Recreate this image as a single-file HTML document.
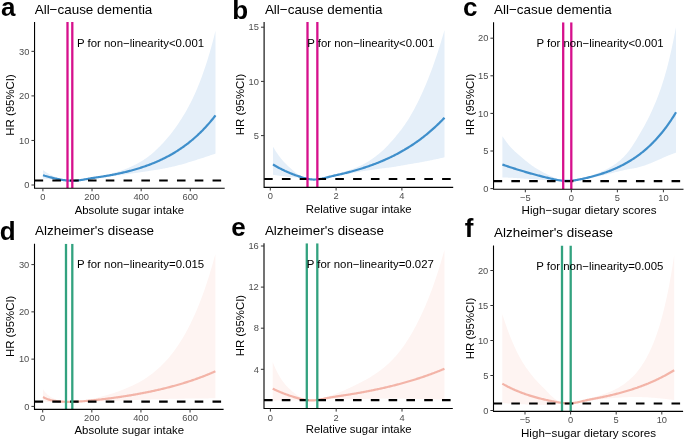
<!DOCTYPE html>
<html><head><meta charset="utf-8"><style>
html,body{margin:0;padding:0;background:#fff;width:685px;height:440px;overflow:hidden}
svg{display:block;will-change:transform}
text{font-family:"Liberation Sans", sans-serif;fill:#000}
</style></head><body>
<svg width="685" height="440" viewBox="0 0 685 440">

<clipPath id="clipa"><rect x="34.55" y="22.00" width="190.15" height="166.20"/></clipPath>
<g clip-path="url(#clipa)">
<path d="M43.00,170.06 L43.87,170.70 L44.73,171.32 L45.60,171.90 L46.47,172.46 L47.33,173.00 L48.20,173.51 L49.07,173.99 L49.93,174.46 L50.80,174.91 L51.67,175.33 L52.53,175.74 L53.40,176.13 L54.27,176.50 L55.13,176.86 L56.00,177.20 L56.87,177.52 L57.73,177.84 L58.60,178.16 L59.47,178.46 L60.34,178.76 L61.20,179.04 L62.07,179.30 L62.94,179.55 L63.80,179.77 L64.67,179.97 L65.54,180.16 L66.40,180.31 L67.27,180.45 L68.14,180.56 L69.00,180.65 L69.87,180.71 L70.74,180.74 L71.60,180.76 L72.47,180.77 L73.34,180.76 L74.20,180.73 L75.07,180.68 L75.94,180.61 L76.81,180.53 L77.67,180.44 L78.54,180.33 L79.41,180.21 L80.27,180.07 L81.14,179.92 L82.01,179.77 L82.87,179.60 L83.74,179.43 L84.61,179.25 L85.47,179.06 L86.34,178.88 L87.21,178.69 L88.07,178.51 L88.94,178.32 L89.81,178.15 L90.67,177.97 L91.54,177.80 L92.41,177.63 L93.28,177.46 L94.14,177.29 L95.01,177.13 L95.88,176.96 L96.74,176.80 L97.61,176.63 L98.48,176.47 L99.34,176.30 L100.21,176.13 L101.08,175.95 L101.94,175.77 L102.81,175.59 L103.68,175.40 L104.54,175.21 L105.41,175.02 L106.28,174.82 L107.14,174.61 L108.01,174.41 L108.88,174.19 L109.75,173.97 L110.61,173.75 L111.48,173.52 L112.35,173.29 L113.21,173.05 L114.08,172.81 L114.95,172.56 L115.81,172.30 L116.68,172.04 L117.55,171.78 L118.41,171.50 L119.28,171.22 L120.15,170.94 L121.01,170.64 L121.88,170.34 L122.75,170.03 L123.61,169.72 L124.48,169.39 L125.35,169.06 L126.22,168.72 L127.08,168.38 L127.95,168.02 L128.82,167.65 L129.68,167.28 L130.55,166.90 L131.42,166.51 L132.28,166.10 L133.15,165.69 L134.02,165.27 L134.88,164.84 L135.75,164.40 L136.62,163.94 L137.48,163.48 L138.35,163.01 L139.22,162.52 L140.08,162.02 L140.95,161.51 L141.82,160.99 L142.69,160.45 L143.55,159.90 L144.42,159.34 L145.29,158.76 L146.15,158.16 L147.02,157.55 L147.89,156.91 L148.75,156.26 L149.62,155.58 L150.49,154.89 L151.35,154.17 L152.22,153.44 L153.09,152.69 L153.95,151.92 L154.82,151.14 L155.69,150.34 L156.55,149.52 L157.42,148.70 L158.29,147.85 L159.16,147.00 L160.02,146.14 L160.89,145.26 L161.76,144.36 L162.62,143.45 L163.49,142.52 L164.36,141.57 L165.22,140.60 L166.09,139.61 L166.96,138.61 L167.82,137.59 L168.69,136.54 L169.56,135.48 L170.42,134.39 L171.29,133.29 L172.16,132.16 L173.02,131.02 L173.89,129.85 L174.76,128.66 L175.63,127.45 L176.49,126.22 L177.36,124.96 L178.23,123.69 L179.09,122.40 L179.96,121.09 L180.83,119.75 L181.69,118.38 L182.56,117.00 L183.43,115.58 L184.29,114.14 L185.16,112.67 L186.03,111.17 L186.89,109.64 L187.76,108.08 L188.63,106.48 L189.49,104.85 L190.36,103.18 L191.23,101.47 L192.10,99.71 L192.96,97.92 L193.83,96.08 L194.70,94.19 L195.56,92.26 L196.43,90.27 L197.30,88.22 L198.16,86.12 L199.03,83.97 L199.90,81.76 L200.76,79.50 L201.63,77.18 L202.50,74.80 L203.36,72.35 L204.23,69.85 L205.10,67.28 L205.96,64.65 L206.83,61.95 L207.70,59.18 L208.57,56.34 L209.43,53.43 L210.30,50.44 L211.17,47.38 L212.03,44.24 L212.90,41.02 L213.77,37.72 L214.63,34.34 L215.50,30.87 L215.50,153.60 L214.63,153.90 L213.77,154.20 L212.90,154.49 L212.03,154.79 L211.17,155.08 L210.30,155.37 L209.43,155.66 L208.57,155.95 L207.70,156.24 L206.83,156.53 L205.96,156.81 L205.10,157.10 L204.23,157.38 L203.36,157.67 L202.50,157.95 L201.63,158.23 L200.76,158.51 L199.90,158.79 L199.03,159.07 L198.16,159.35 L197.30,159.62 L196.43,159.90 L195.56,160.18 L194.70,160.45 L193.83,160.73 L192.96,161.00 L192.10,161.28 L191.23,161.55 L190.36,161.82 L189.49,162.09 L188.63,162.36 L187.76,162.62 L186.89,162.88 L186.03,163.14 L185.16,163.40 L184.29,163.65 L183.43,163.90 L182.56,164.14 L181.69,164.39 L180.83,164.63 L179.96,164.86 L179.09,165.09 L178.23,165.32 L177.36,165.54 L176.49,165.76 L175.63,165.97 L174.76,166.18 L173.89,166.38 L173.02,166.58 L172.16,166.78 L171.29,166.98 L170.42,167.17 L169.56,167.36 L168.69,167.54 L167.82,167.73 L166.96,167.91 L166.09,168.08 L165.22,168.26 L164.36,168.43 L163.49,168.60 L162.62,168.76 L161.76,168.93 L160.89,169.09 L160.02,169.24 L159.16,169.40 L158.29,169.55 L157.42,169.69 L156.55,169.83 L155.69,169.97 L154.82,170.10 L153.95,170.23 L153.09,170.36 L152.22,170.49 L151.35,170.62 L150.49,170.75 L149.62,170.87 L148.75,171.00 L147.89,171.13 L147.02,171.26 L146.15,171.39 L145.29,171.52 L144.42,171.66 L143.55,171.79 L142.69,171.93 L141.82,172.06 L140.95,172.19 L140.08,172.32 L139.22,172.45 L138.35,172.58 L137.48,172.71 L136.62,172.84 L135.75,172.97 L134.88,173.10 L134.02,173.22 L133.15,173.35 L132.28,173.47 L131.42,173.60 L130.55,173.72 L129.68,173.84 L128.82,173.96 L127.95,174.08 L127.08,174.20 L126.22,174.32 L125.35,174.44 L124.48,174.56 L123.61,174.68 L122.75,174.80 L121.88,174.91 L121.01,175.03 L120.15,175.14 L119.28,175.26 L118.41,175.37 L117.55,175.49 L116.68,175.60 L115.81,175.71 L114.95,175.82 L114.08,175.93 L113.21,176.04 L112.35,176.15 L111.48,176.26 L110.61,176.36 L109.75,176.47 L108.88,176.57 L108.01,176.68 L107.14,176.78 L106.28,176.88 L105.41,176.98 L104.54,177.08 L103.68,177.18 L102.81,177.28 L101.94,177.38 L101.08,177.47 L100.21,177.57 L99.34,177.67 L98.48,177.76 L97.61,177.86 L96.74,177.96 L95.88,178.06 L95.01,178.16 L94.14,178.26 L93.28,178.37 L92.41,178.48 L91.54,178.59 L90.67,178.71 L89.81,178.83 L88.94,178.95 L88.07,179.08 L87.21,179.21 L86.34,179.35 L85.47,179.48 L84.61,179.62 L83.74,179.76 L82.87,179.89 L82.01,180.02 L81.14,180.14 L80.27,180.25 L79.41,180.36 L78.54,180.45 L77.67,180.54 L76.81,180.61 L75.94,180.68 L75.07,180.72 L74.20,180.76 L73.34,180.78 L72.47,180.78 L71.60,180.77 L70.74,180.74 L69.87,180.71 L69.00,180.66 L68.14,180.62 L67.27,180.57 L66.40,180.53 L65.54,180.48 L64.67,180.43 L63.80,180.38 L62.94,180.33 L62.07,180.28 L61.20,180.23 L60.34,180.17 L59.47,180.11 L58.60,180.05 L57.73,179.99 L56.87,179.91 L56.00,179.84 L55.13,179.76 L54.27,179.67 L53.40,179.59 L52.53,179.51 L51.67,179.43 L50.80,179.34 L49.93,179.26 L49.07,179.17 L48.20,179.08 L47.33,179.00 L46.47,178.91 L45.60,178.82 L44.73,178.73 L43.87,178.64 L43.00,178.55 Z" fill="#E5EFF9"/>
<path d="M43.00,175.18 L43.87,175.46 L44.73,175.74 L45.60,176.00 L46.47,176.26 L47.33,176.51 L48.20,176.75 L49.07,176.99 L49.93,177.22 L50.80,177.44 L51.67,177.66 L52.53,177.87 L53.40,178.07 L54.27,178.27 L55.13,178.47 L56.00,178.65 L56.87,178.83 L57.73,179.01 L58.60,179.18 L59.47,179.35 L60.34,179.51 L61.20,179.67 L62.07,179.81 L62.94,179.96 L63.80,180.09 L64.67,180.21 L65.54,180.32 L66.40,180.42 L67.27,180.51 L68.14,180.59 L69.00,180.65 L69.87,180.71 L70.74,180.74 L71.60,180.77 L72.47,180.78 L73.34,180.77 L74.20,180.74 L75.07,180.70 L75.94,180.64 L76.81,180.57 L77.67,180.49 L78.54,180.39 L79.41,180.28 L80.27,180.16 L81.14,180.03 L82.01,179.89 L82.87,179.75 L83.74,179.59 L84.61,179.44 L85.47,179.28 L86.34,179.12 L87.21,178.96 L88.07,178.80 L88.94,178.65 L89.81,178.50 L90.67,178.35 L91.54,178.21 L92.41,178.07 L93.28,177.93 L94.14,177.79 L95.01,177.66 L95.88,177.53 L96.74,177.40 L97.61,177.27 L98.48,177.14 L99.34,177.01 L100.21,176.88 L101.08,176.75 L101.94,176.61 L102.81,176.48 L103.68,176.34 L104.54,176.20 L105.41,176.05 L106.28,175.91 L107.14,175.76 L108.01,175.61 L108.88,175.46 L109.75,175.30 L110.61,175.14 L111.48,174.98 L112.35,174.82 L113.21,174.65 L114.08,174.49 L114.95,174.31 L115.81,174.14 L116.68,173.96 L117.55,173.78 L118.41,173.60 L119.28,173.42 L120.15,173.23 L121.01,173.04 L121.88,172.84 L122.75,172.64 L123.61,172.44 L124.48,172.24 L125.35,172.03 L126.22,171.82 L127.08,171.60 L127.95,171.39 L128.82,171.16 L129.68,170.94 L130.55,170.71 L131.42,170.48 L132.28,170.24 L133.15,170.00 L134.02,169.76 L134.88,169.51 L135.75,169.26 L136.62,169.00 L137.48,168.74 L138.35,168.47 L139.22,168.20 L140.08,167.93 L140.95,167.65 L141.82,167.37 L142.69,167.08 L143.55,166.79 L144.42,166.50 L145.29,166.19 L146.15,165.89 L147.02,165.58 L147.89,165.26 L148.75,164.94 L149.62,164.61 L150.49,164.28 L151.35,163.94 L152.22,163.60 L153.09,163.25 L153.95,162.90 L154.82,162.54 L155.69,162.17 L156.55,161.80 L157.42,161.42 L158.29,161.04 L159.16,160.65 L160.02,160.25 L160.89,159.85 L161.76,159.44 L162.62,159.03 L163.49,158.60 L164.36,158.17 L165.22,157.74 L166.09,157.29 L166.96,156.84 L167.82,156.38 L168.69,155.92 L169.56,155.44 L170.42,154.96 L171.29,154.47 L172.16,153.98 L173.02,153.47 L173.89,152.96 L174.76,152.44 L175.63,151.91 L176.49,151.37 L177.36,150.82 L178.23,150.26 L179.09,149.70 L179.96,149.12 L180.83,148.54 L181.69,147.94 L182.56,147.34 L183.43,146.73 L184.29,146.10 L185.16,145.47 L186.03,144.83 L186.89,144.17 L187.76,143.51 L188.63,142.83 L189.49,142.15 L190.36,141.45 L191.23,140.74 L192.10,140.02 L192.96,139.29 L193.83,138.54 L194.70,137.79 L195.56,137.02 L196.43,136.24 L197.30,135.44 L198.16,134.64 L199.03,133.82 L199.90,132.98 L200.76,132.14 L201.63,131.28 L202.50,130.40 L203.36,129.51 L204.23,128.61 L205.10,127.69 L205.96,126.76 L206.83,125.81 L207.70,124.84 L208.57,123.87 L209.43,122.87 L210.30,121.86 L211.17,120.83 L212.03,119.79 L212.90,118.72 L213.77,117.65 L214.63,116.55 L215.50,115.43" fill="none" stroke="#3F8FCB" stroke-width="2.2" stroke-linejoin="round"/>
<line x1="34.55" y1="180.54" x2="224.70" y2="180.54" stroke="#000" stroke-width="2.1" stroke-dasharray="8.6 9.2"/>
<line x1="67.50" y1="22.00" x2="67.50" y2="188.20" stroke="#D6108C" stroke-width="2.3"/>
<line x1="72.30" y1="22.00" x2="72.30" y2="188.20" stroke="#D6108C" stroke-width="2.3"/>
</g>
<path d="M34.55,22.00 V188.20 H224.70" fill="none" stroke="#000" stroke-width="1.1"/>
<line x1="31.45" y1="185.00" x2="34.55" y2="185.00" stroke="#333" stroke-width="1.0"/>
<text x="29.35" y="188.25" font-size="9.3" style="fill:#4D4D4D" text-anchor="end">0</text>
<line x1="31.45" y1="140.45" x2="34.55" y2="140.45" stroke="#333" stroke-width="1.0"/>
<text x="29.35" y="143.70" font-size="9.3" style="fill:#4D4D4D" text-anchor="end">10</text>
<line x1="31.45" y1="95.90" x2="34.55" y2="95.90" stroke="#333" stroke-width="1.0"/>
<text x="29.35" y="99.15" font-size="9.3" style="fill:#4D4D4D" text-anchor="end">20</text>
<line x1="31.45" y1="51.35" x2="34.55" y2="51.35" stroke="#333" stroke-width="1.0"/>
<text x="29.35" y="54.60" font-size="9.3" style="fill:#4D4D4D" text-anchor="end">30</text>
<line x1="42.90" y1="188.20" x2="42.90" y2="191.30" stroke="#333" stroke-width="1.0"/>
<text x="42.90" y="200.20" font-size="9.3" style="fill:#4D4D4D" text-anchor="middle">0</text>
<line x1="92.03" y1="188.20" x2="92.03" y2="191.30" stroke="#333" stroke-width="1.0"/>
<text x="92.03" y="200.20" font-size="9.3" style="fill:#4D4D4D" text-anchor="middle">200</text>
<line x1="141.16" y1="188.20" x2="141.16" y2="191.30" stroke="#333" stroke-width="1.0"/>
<text x="141.16" y="200.20" font-size="9.3" style="fill:#4D4D4D" text-anchor="middle">400</text>
<line x1="190.29" y1="188.20" x2="190.29" y2="191.30" stroke="#333" stroke-width="1.0"/>
<text x="190.29" y="200.20" font-size="9.3" style="fill:#4D4D4D" text-anchor="middle">600</text>
<text x="129.40" y="213.50" font-size="11.40" text-anchor="middle">Absolute sugar intake</text>
<text transform="translate(13.70,105.00) rotate(-90)" font-size="11.4" text-anchor="middle">HR (95%CI)</text>
<text x="34.70" y="13.70" font-size="13.45">All−cause dementia</text>
<text x="76.97" y="46.60" font-size="11.4">P for non−linearity&lt;0.001</text>
<text x="0.95" y="16.20" font-size="26" font-weight="bold">a</text>
<clipPath id="clipb"><rect x="264.10" y="22.00" width="189.10" height="165.40"/></clipPath>
<g clip-path="url(#clipb)">
<path d="M273.00,146.66 L273.86,148.12 L274.72,149.53 L275.58,150.89 L276.45,152.21 L277.31,153.48 L278.17,154.71 L279.03,155.90 L279.89,157.04 L280.75,158.15 L281.62,159.21 L282.48,160.24 L283.34,161.23 L284.20,162.18 L285.06,163.11 L285.93,164.00 L286.79,164.87 L287.65,165.71 L288.51,166.53 L289.37,167.33 L290.23,168.10 L291.10,168.87 L291.96,169.62 L292.82,170.37 L293.68,171.09 L294.54,171.78 L295.41,172.45 L296.27,173.08 L297.13,173.67 L297.99,174.23 L298.85,174.75 L299.72,175.22 L300.58,175.67 L301.44,176.10 L302.30,176.51 L303.16,176.91 L304.02,177.29 L304.89,177.64 L305.75,177.97 L306.61,178.27 L307.47,178.54 L308.33,178.78 L309.20,178.99 L310.06,179.17 L310.92,179.31 L311.78,179.42 L312.64,179.49 L313.50,179.52 L314.37,179.52 L315.23,179.49 L316.09,179.43 L316.95,179.34 L317.81,179.22 L318.68,179.07 L319.54,178.90 L320.40,178.71 L321.26,178.50 L322.12,178.28 L322.98,178.03 L323.85,177.78 L324.71,177.51 L325.57,177.23 L326.43,176.95 L327.29,176.67 L328.16,176.39 L329.02,176.12 L329.88,175.85 L330.74,175.59 L331.60,175.34 L332.47,175.08 L333.33,174.83 L334.19,174.58 L335.05,174.34 L335.91,174.09 L336.77,173.85 L337.64,173.61 L338.50,173.36 L339.36,173.12 L340.22,172.88 L341.08,172.63 L341.95,172.38 L342.81,172.13 L343.67,171.87 L344.53,171.61 L345.39,171.35 L346.25,171.08 L347.12,170.80 L347.98,170.53 L348.84,170.24 L349.70,169.95 L350.56,169.66 L351.43,169.36 L352.29,169.05 L353.15,168.73 L354.01,168.41 L354.87,168.08 L355.74,167.74 L356.60,167.40 L357.46,167.05 L358.32,166.68 L359.18,166.31 L360.04,165.92 L360.91,165.51 L361.77,165.09 L362.63,164.66 L363.49,164.21 L364.35,163.75 L365.22,163.27 L366.08,162.78 L366.94,162.27 L367.80,161.75 L368.66,161.22 L369.52,160.67 L370.39,160.10 L371.25,159.53 L372.11,158.93 L372.97,158.33 L373.83,157.71 L374.70,157.08 L375.56,156.43 L376.42,155.78 L377.28,155.11 L378.14,154.43 L379.01,153.74 L379.87,153.03 L380.73,152.30 L381.59,151.54 L382.45,150.76 L383.31,149.96 L384.18,149.13 L385.04,148.29 L385.90,147.43 L386.76,146.54 L387.62,145.64 L388.49,144.72 L389.35,143.78 L390.21,142.83 L391.07,141.87 L391.93,140.89 L392.79,139.91 L393.66,138.91 L394.52,137.91 L395.38,136.90 L396.24,135.87 L397.10,134.83 L397.97,133.78 L398.83,132.71 L399.69,131.62 L400.55,130.51 L401.41,129.38 L402.27,128.23 L403.14,127.06 L404.00,125.86 L404.86,124.63 L405.72,123.37 L406.58,122.08 L407.45,120.75 L408.31,119.39 L409.17,118.00 L410.03,116.57 L410.89,115.10 L411.76,113.60 L412.62,112.07 L413.48,110.50 L414.34,108.90 L415.20,107.27 L416.06,105.61 L416.93,103.91 L417.79,102.18 L418.65,100.42 L419.51,98.63 L420.37,96.81 L421.24,94.96 L422.10,93.08 L422.96,91.17 L423.82,89.22 L424.68,87.24 L425.54,85.22 L426.41,83.16 L427.27,81.06 L428.13,78.93 L428.99,76.75 L429.85,74.53 L430.72,72.27 L431.58,69.97 L432.44,67.63 L433.30,65.24 L434.16,62.81 L435.03,60.34 L435.89,57.82 L436.75,55.25 L437.61,52.64 L438.47,49.98 L439.33,47.27 L440.20,44.51 L441.06,41.71 L441.92,38.85 L442.78,35.94 L443.64,32.98 L444.51,29.96 L444.51,157.29 L443.64,157.50 L442.78,157.70 L441.92,157.90 L441.06,158.10 L440.20,158.30 L439.33,158.49 L438.47,158.68 L437.61,158.88 L436.75,159.06 L435.89,159.25 L435.03,159.44 L434.16,159.62 L433.30,159.80 L432.44,159.98 L431.58,160.16 L430.72,160.34 L429.85,160.51 L428.99,160.68 L428.13,160.86 L427.27,161.03 L426.41,161.19 L425.54,161.36 L424.68,161.53 L423.82,161.69 L422.96,161.85 L422.10,162.02 L421.24,162.18 L420.37,162.33 L419.51,162.49 L418.65,162.64 L417.79,162.78 L416.93,162.93 L416.06,163.07 L415.20,163.22 L414.34,163.36 L413.48,163.50 L412.62,163.64 L411.76,163.79 L410.89,163.93 L410.03,164.07 L409.17,164.22 L408.31,164.36 L407.45,164.51 L406.58,164.66 L405.72,164.81 L404.86,164.97 L404.00,165.13 L403.14,165.28 L402.27,165.44 L401.41,165.60 L400.55,165.76 L399.69,165.91 L398.83,166.07 L397.97,166.22 L397.10,166.37 L396.24,166.51 L395.38,166.66 L394.52,166.79 L393.66,166.93 L392.79,167.06 L391.93,167.18 L391.07,167.30 L390.21,167.41 L389.35,167.52 L388.49,167.63 L387.62,167.73 L386.76,167.84 L385.90,167.94 L385.04,168.04 L384.18,168.15 L383.31,168.25 L382.45,168.36 L381.59,168.47 L380.73,168.59 L379.87,168.71 L379.01,168.83 L378.14,168.95 L377.28,169.08 L376.42,169.20 L375.56,169.32 L374.70,169.44 L373.83,169.56 L372.97,169.68 L372.11,169.80 L371.25,169.92 L370.39,170.04 L369.52,170.16 L368.66,170.28 L367.80,170.41 L366.94,170.54 L366.08,170.67 L365.22,170.80 L364.35,170.94 L363.49,171.08 L362.63,171.22 L361.77,171.37 L360.91,171.52 L360.04,171.67 L359.18,171.83 L358.32,172.00 L357.46,172.17 L356.60,172.34 L355.74,172.51 L354.87,172.68 L354.01,172.85 L353.15,173.03 L352.29,173.20 L351.43,173.37 L350.56,173.54 L349.70,173.71 L348.84,173.88 L347.98,174.05 L347.12,174.22 L346.25,174.39 L345.39,174.56 L344.53,174.72 L343.67,174.88 L342.81,175.05 L341.95,175.21 L341.08,175.37 L340.22,175.53 L339.36,175.68 L338.50,175.84 L337.64,176.00 L336.77,176.15 L335.91,176.31 L335.05,176.47 L334.19,176.63 L333.33,176.79 L332.47,176.95 L331.60,177.12 L330.74,177.29 L329.88,177.46 L329.02,177.63 L328.16,177.80 L327.29,177.98 L326.43,178.15 L325.57,178.32 L324.71,178.48 L323.85,178.64 L322.98,178.79 L322.12,178.93 L321.26,179.06 L320.40,179.17 L319.54,179.28 L318.68,179.37 L317.81,179.44 L316.95,179.50 L316.09,179.54 L315.23,179.56 L314.37,179.55 L313.50,179.53 L312.64,179.49 L311.78,179.43 L310.92,179.36 L310.06,179.28 L309.20,179.20 L308.33,179.11 L307.47,179.01 L306.61,178.91 L305.75,178.80 L304.89,178.69 L304.02,178.57 L303.16,178.45 L302.30,178.32 L301.44,178.19 L300.58,178.05 L299.72,177.92 L298.85,177.80 L297.99,177.69 L297.13,177.60 L296.27,177.53 L295.41,177.46 L294.54,177.40 L293.68,177.35 L292.82,177.29 L291.96,177.23 L291.10,177.16 L290.23,177.07 L289.37,176.98 L288.51,176.88 L287.65,176.78 L286.79,176.68 L285.93,176.57 L285.06,176.46 L284.20,176.35 L283.34,176.23 L282.48,176.12 L281.62,176.00 L280.75,175.89 L279.89,175.78 L279.03,175.66 L278.17,175.55 L277.31,175.44 L276.45,175.32 L275.58,175.21 L274.72,175.09 L273.86,174.97 L273.00,174.85 Z" fill="#E5EFF9"/>
<path d="M273.00,164.41 L273.86,164.94 L274.72,165.46 L275.58,165.97 L276.45,166.47 L277.31,166.96 L278.17,167.44 L279.03,167.91 L279.89,168.37 L280.75,168.82 L281.62,169.26 L282.48,169.69 L283.34,170.11 L284.20,170.52 L285.06,170.93 L285.93,171.32 L286.79,171.71 L287.65,172.09 L288.51,172.46 L289.37,172.83 L290.23,173.18 L291.10,173.53 L291.96,173.87 L292.82,174.21 L293.68,174.53 L294.54,174.85 L295.41,175.17 L296.27,175.47 L297.13,175.78 L297.99,176.07 L298.85,176.36 L299.72,176.64 L300.58,176.92 L301.44,177.19 L302.30,177.45 L303.16,177.70 L304.02,177.95 L304.89,178.18 L305.75,178.39 L306.61,178.59 L307.47,178.78 L308.33,178.95 L309.20,179.10 L310.06,179.23 L310.92,179.34 L311.78,179.42 L312.64,179.49 L313.50,179.53 L314.37,179.54 L315.23,179.52 L316.09,179.48 L316.95,179.42 L317.81,179.33 L318.68,179.22 L319.54,179.09 L320.40,178.95 L321.26,178.78 L322.12,178.61 L322.98,178.42 L323.85,178.21 L324.71,178.00 L325.57,177.79 L326.43,177.56 L327.29,177.34 L328.16,177.12 L329.02,176.90 L329.88,176.68 L330.74,176.47 L331.60,176.26 L332.47,176.05 L333.33,175.85 L334.19,175.64 L335.05,175.44 L335.91,175.24 L336.77,175.05 L337.64,174.85 L338.50,174.65 L339.36,174.46 L340.22,174.26 L341.08,174.06 L341.95,173.86 L342.81,173.65 L343.67,173.45 L344.53,173.24 L345.39,173.03 L346.25,172.81 L347.12,172.60 L347.98,172.38 L348.84,172.16 L349.70,171.93 L350.56,171.70 L351.43,171.47 L352.29,171.24 L353.15,171.00 L354.01,170.76 L354.87,170.52 L355.74,170.27 L356.60,170.02 L357.46,169.77 L358.32,169.52 L359.18,169.26 L360.04,168.99 L360.91,168.73 L361.77,168.46 L362.63,168.19 L363.49,167.91 L364.35,167.63 L365.22,167.35 L366.08,167.06 L366.94,166.77 L367.80,166.48 L368.66,166.18 L369.52,165.88 L370.39,165.57 L371.25,165.27 L372.11,164.95 L372.97,164.64 L373.83,164.31 L374.70,163.99 L375.56,163.66 L376.42,163.33 L377.28,162.99 L378.14,162.65 L379.01,162.30 L379.87,161.95 L380.73,161.59 L381.59,161.23 L382.45,160.87 L383.31,160.50 L384.18,160.13 L385.04,159.75 L385.90,159.36 L386.76,158.98 L387.62,158.58 L388.49,158.18 L389.35,157.78 L390.21,157.37 L391.07,156.96 L391.93,156.54 L392.79,156.12 L393.66,155.69 L394.52,155.25 L395.38,154.81 L396.24,154.36 L397.10,153.91 L397.97,153.45 L398.83,152.99 L399.69,152.52 L400.55,152.04 L401.41,151.56 L402.27,151.07 L403.14,150.58 L404.00,150.08 L404.86,149.57 L405.72,149.06 L406.58,148.54 L407.45,148.01 L408.31,147.48 L409.17,146.94 L410.03,146.39 L410.89,145.84 L411.76,145.28 L412.62,144.71 L413.48,144.13 L414.34,143.55 L415.20,142.96 L416.06,142.36 L416.93,141.76 L417.79,141.15 L418.65,140.53 L419.51,139.90 L420.37,139.26 L421.24,138.61 L422.10,137.96 L422.96,137.30 L423.82,136.63 L424.68,135.95 L425.54,135.26 L426.41,134.57 L427.27,133.86 L428.13,133.15 L428.99,132.43 L429.85,131.70 L430.72,130.95 L431.58,130.20 L432.44,129.44 L433.30,128.67 L434.16,127.89 L435.03,127.10 L435.89,126.30 L436.75,125.49 L437.61,124.67 L438.47,123.84 L439.33,123.00 L440.20,122.15 L441.06,121.28 L441.92,120.41 L442.78,119.52 L443.64,118.63 L444.51,117.72" fill="none" stroke="#3F8FCB" stroke-width="2.2" stroke-linejoin="round"/>
<line x1="264.10" y1="178.96" x2="453.20" y2="178.96" stroke="#000" stroke-width="2.1" stroke-dasharray="8.6 9.2"/>
<line x1="307.50" y1="22.00" x2="307.50" y2="187.40" stroke="#D6108C" stroke-width="2.3"/>
<line x1="317.35" y1="22.00" x2="317.35" y2="187.40" stroke="#D6108C" stroke-width="2.3"/>
</g>
<path d="M264.10,22.00 V187.40 H453.20" fill="none" stroke="#000" stroke-width="1.1"/>
<line x1="261.00" y1="135.60" x2="264.10" y2="135.60" stroke="#333" stroke-width="1.0"/>
<text x="258.90" y="138.85" font-size="9.3" style="fill:#4D4D4D" text-anchor="end">5</text>
<line x1="261.00" y1="81.40" x2="264.10" y2="81.40" stroke="#333" stroke-width="1.0"/>
<text x="258.90" y="84.65" font-size="9.3" style="fill:#4D4D4D" text-anchor="end">10</text>
<line x1="261.00" y1="27.20" x2="264.10" y2="27.20" stroke="#333" stroke-width="1.0"/>
<text x="258.90" y="30.45" font-size="9.3" style="fill:#4D4D4D" text-anchor="end">15</text>
<line x1="270.30" y1="187.40" x2="270.30" y2="190.50" stroke="#333" stroke-width="1.0"/>
<text x="270.30" y="199.40" font-size="9.3" style="fill:#4D4D4D" text-anchor="middle">0</text>
<line x1="336.10" y1="187.40" x2="336.10" y2="190.50" stroke="#333" stroke-width="1.0"/>
<text x="336.10" y="199.40" font-size="9.3" style="fill:#4D4D4D" text-anchor="middle">2</text>
<line x1="401.90" y1="187.40" x2="401.90" y2="190.50" stroke="#333" stroke-width="1.0"/>
<text x="401.90" y="199.40" font-size="9.3" style="fill:#4D4D4D" text-anchor="middle">4</text>
<text x="358.70" y="212.50" font-size="11.35" text-anchor="middle">Relative sugar intake</text>
<text transform="translate(243.70,104.50) rotate(-90)" font-size="11.4" text-anchor="middle">HR (95%CI)</text>
<text x="264.90" y="13.80" font-size="13.45">All−cause dementia</text>
<text x="307.17" y="46.80" font-size="11.4">P for non−linearity&lt;0.001</text>
<text x="232.18" y="18.60" font-size="26" font-weight="bold">b</text>
<clipPath id="clipc"><rect x="493.55" y="22.30" width="189.95" height="166.90"/></clipPath>
<g clip-path="url(#clipc)">
<path d="M502.40,136.14 L503.28,137.48 L504.15,138.78 L505.02,140.04 L505.89,141.26 L506.77,142.43 L507.64,143.56 L508.51,144.65 L509.38,145.70 L510.26,146.70 L511.13,147.67 L512.00,148.59 L512.87,149.48 L513.75,150.34 L514.62,151.17 L515.49,151.98 L516.36,152.77 L517.24,153.55 L518.11,154.31 L518.98,155.06 L519.85,155.80 L520.72,156.54 L521.60,157.27 L522.47,158.00 L523.34,158.73 L524.21,159.46 L525.09,160.19 L525.96,160.90 L526.83,161.61 L527.70,162.32 L528.58,163.00 L529.45,163.68 L530.32,164.34 L531.19,164.99 L532.07,165.63 L532.94,166.24 L533.81,166.84 L534.68,167.43 L535.56,167.99 L536.43,168.54 L537.30,169.07 L538.17,169.58 L539.05,170.08 L539.92,170.57 L540.79,171.05 L541.66,171.52 L542.53,171.98 L543.41,172.44 L544.28,172.89 L545.15,173.33 L546.02,173.77 L546.90,174.20 L547.77,174.63 L548.64,175.05 L549.51,175.48 L550.39,175.89 L551.26,176.30 L552.13,176.71 L553.00,177.10 L553.88,177.47 L554.75,177.84 L555.62,178.18 L556.49,178.51 L557.37,178.82 L558.24,179.10 L559.11,179.37 L559.98,179.61 L560.85,179.85 L561.73,180.08 L562.60,180.30 L563.47,180.48 L564.34,180.64 L565.22,180.77 L566.09,180.86 L566.96,180.91 L567.83,180.91 L568.71,180.88 L569.58,180.83 L570.45,180.76 L571.32,180.67 L572.20,180.57 L573.07,180.44 L573.94,180.30 L574.81,180.14 L575.69,179.97 L576.56,179.78 L577.43,179.58 L578.30,179.37 L579.18,179.15 L580.05,178.92 L580.92,178.68 L581.79,178.43 L582.66,178.18 L583.54,177.92 L584.41,177.66 L585.28,177.39 L586.15,177.12 L587.03,176.84 L587.90,176.56 L588.77,176.28 L589.64,176.00 L590.52,175.71 L591.39,175.42 L592.26,175.12 L593.13,174.82 L594.01,174.51 L594.88,174.20 L595.75,173.88 L596.62,173.55 L597.50,173.22 L598.37,172.88 L599.24,172.53 L600.11,172.18 L600.99,171.82 L601.86,171.44 L602.73,171.06 L603.60,170.67 L604.47,170.27 L605.35,169.85 L606.22,169.42 L607.09,168.99 L607.96,168.53 L608.84,168.06 L609.71,167.58 L610.58,167.08 L611.45,166.56 L612.33,166.02 L613.20,165.45 L614.07,164.87 L614.94,164.26 L615.82,163.64 L616.69,162.99 L617.56,162.31 L618.43,161.62 L619.31,160.90 L620.18,160.15 L621.05,159.38 L621.92,158.58 L622.79,157.76 L623.67,156.91 L624.54,156.04 L625.41,155.12 L626.28,154.15 L627.16,153.12 L628.03,152.05 L628.90,150.93 L629.77,149.75 L630.65,148.53 L631.52,147.27 L632.39,145.96 L633.26,144.62 L634.14,143.24 L635.01,141.84 L635.88,140.41 L636.75,138.96 L637.63,137.50 L638.50,136.03 L639.37,134.57 L640.24,133.09 L641.12,131.60 L641.99,130.08 L642.86,128.54 L643.73,126.97 L644.60,125.38 L645.48,123.75 L646.35,122.10 L647.22,120.42 L648.09,118.71 L648.97,116.96 L649.84,115.17 L650.71,113.35 L651.58,111.48 L652.46,109.57 L653.33,107.62 L654.20,105.61 L655.07,103.56 L655.95,101.44 L656.82,99.27 L657.69,97.04 L658.56,94.73 L659.44,92.36 L660.31,89.91 L661.18,87.38 L662.05,84.77 L662.92,82.06 L663.80,79.25 L664.67,76.34 L665.54,73.32 L666.41,70.18 L667.29,66.92 L668.16,63.52 L669.03,60.00 L669.90,56.35 L670.78,52.57 L671.65,48.65 L672.52,44.60 L673.39,40.40 L674.27,36.07 L675.14,31.61 L676.01,27.00 L676.01,152.54 L675.14,152.88 L674.27,153.22 L673.39,153.56 L672.52,153.90 L671.65,154.24 L670.78,154.58 L669.90,154.92 L669.03,155.27 L668.16,155.62 L667.29,155.98 L666.41,156.34 L665.54,156.71 L664.67,157.09 L663.80,157.47 L662.92,157.85 L662.05,158.24 L661.18,158.63 L660.31,159.02 L659.44,159.41 L658.56,159.80 L657.69,160.19 L656.82,160.57 L655.95,160.96 L655.07,161.34 L654.20,161.71 L653.33,162.08 L652.46,162.45 L651.58,162.81 L650.71,163.17 L649.84,163.52 L648.97,163.86 L648.09,164.20 L647.22,164.53 L646.35,164.85 L645.48,165.16 L644.60,165.47 L643.73,165.76 L642.86,166.05 L641.99,166.33 L641.12,166.59 L640.24,166.85 L639.37,167.10 L638.50,167.33 L637.63,167.55 L636.75,167.75 L635.88,167.93 L635.01,168.10 L634.14,168.26 L633.26,168.41 L632.39,168.56 L631.52,168.71 L630.65,168.85 L629.77,169.00 L628.90,169.15 L628.03,169.31 L627.16,169.47 L626.28,169.64 L625.41,169.83 L624.54,170.03 L623.67,170.23 L622.79,170.44 L621.92,170.64 L621.05,170.85 L620.18,171.05 L619.31,171.26 L618.43,171.47 L617.56,171.68 L616.69,171.89 L615.82,172.10 L614.94,172.31 L614.07,172.52 L613.20,172.74 L612.33,172.96 L611.45,173.18 L610.58,173.40 L609.71,173.62 L608.84,173.85 L607.96,174.07 L607.09,174.29 L606.22,174.52 L605.35,174.74 L604.47,174.96 L603.60,175.18 L602.73,175.40 L601.86,175.61 L600.99,175.82 L600.11,176.03 L599.24,176.24 L598.37,176.44 L597.50,176.64 L596.62,176.84 L595.75,177.03 L594.88,177.22 L594.01,177.40 L593.13,177.59 L592.26,177.76 L591.39,177.94 L590.52,178.11 L589.64,178.27 L588.77,178.43 L587.90,178.58 L587.03,178.73 L586.15,178.87 L585.28,179.01 L584.41,179.15 L583.54,179.28 L582.66,179.41 L581.79,179.54 L580.92,179.66 L580.05,179.79 L579.18,179.91 L578.30,180.02 L577.43,180.14 L576.56,180.25 L575.69,180.35 L574.81,180.45 L573.94,180.54 L573.07,180.62 L572.20,180.69 L571.32,180.76 L570.45,180.81 L569.58,180.86 L568.71,180.89 L567.83,180.91 L566.96,180.93 L566.09,180.96 L565.22,181.00 L564.34,181.03 L563.47,181.07 L562.60,181.10 L561.73,181.12 L560.85,181.13 L559.98,181.12 L559.11,181.09 L558.24,181.06 L557.37,181.02 L556.49,180.97 L555.62,180.93 L554.75,180.87 L553.88,180.82 L553.00,180.76 L552.13,180.71 L551.26,180.65 L550.39,180.58 L549.51,180.52 L548.64,180.45 L547.77,180.39 L546.90,180.31 L546.02,180.24 L545.15,180.16 L544.28,180.08 L543.41,180.00 L542.53,179.92 L541.66,179.84 L540.79,179.76 L539.92,179.68 L539.05,179.61 L538.17,179.53 L537.30,179.46 L536.43,179.38 L535.56,179.32 L534.68,179.25 L533.81,179.19 L532.94,179.14 L532.07,179.08 L531.19,179.03 L530.32,178.98 L529.45,178.93 L528.58,178.89 L527.70,178.84 L526.83,178.79 L525.96,178.74 L525.09,178.69 L524.21,178.64 L523.34,178.59 L522.47,178.53 L521.60,178.47 L520.72,178.41 L519.85,178.34 L518.98,178.28 L518.11,178.21 L517.24,178.14 L516.36,178.08 L515.49,178.01 L514.62,177.95 L513.75,177.89 L512.87,177.83 L512.00,177.78 L511.13,177.73 L510.26,177.69 L509.38,177.66 L508.51,177.63 L507.64,177.61 L506.77,177.59 L505.89,177.58 L505.02,177.58 L504.15,177.57 L503.28,177.57 L502.40,177.58 Z" fill="#E5EFF9"/>
<path d="M502.40,164.55 L503.28,164.86 L504.15,165.16 L505.02,165.46 L505.89,165.76 L506.77,166.06 L507.64,166.35 L508.51,166.64 L509.38,166.93 L510.26,167.22 L511.13,167.51 L512.00,167.79 L512.87,168.07 L513.75,168.35 L514.62,168.63 L515.49,168.91 L516.36,169.18 L517.24,169.45 L518.11,169.72 L518.98,169.99 L519.85,170.26 L520.72,170.52 L521.60,170.79 L522.47,171.05 L523.34,171.31 L524.21,171.57 L525.09,171.82 L525.96,172.08 L526.83,172.33 L527.70,172.58 L528.58,172.83 L529.45,173.08 L530.32,173.33 L531.19,173.57 L532.07,173.81 L532.94,174.05 L533.81,174.29 L534.68,174.53 L535.56,174.77 L536.43,175.00 L537.30,175.23 L538.17,175.47 L539.05,175.69 L539.92,175.92 L540.79,176.15 L541.66,176.37 L542.53,176.59 L543.41,176.81 L544.28,177.03 L545.15,177.25 L546.02,177.46 L546.90,177.68 L547.77,177.89 L548.64,178.09 L549.51,178.30 L550.39,178.51 L551.26,178.71 L552.13,178.91 L553.00,179.11 L553.88,179.30 L554.75,179.48 L555.62,179.66 L556.49,179.83 L557.37,179.99 L558.24,180.14 L559.11,180.27 L559.98,180.40 L560.85,180.52 L561.73,180.62 L562.60,180.71 L563.47,180.78 L564.34,180.84 L565.22,180.88 L566.09,180.91 L566.96,180.92 L567.83,180.91 L568.71,180.89 L569.58,180.85 L570.45,180.79 L571.32,180.72 L572.20,180.63 L573.07,180.53 L573.94,180.42 L574.81,180.30 L575.69,180.16 L576.56,180.02 L577.43,179.86 L578.30,179.70 L579.18,179.54 L580.05,179.36 L580.92,179.18 L581.79,179.00 L582.66,178.81 L583.54,178.62 L584.41,178.43 L585.28,178.23 L586.15,178.03 L587.03,177.83 L587.90,177.62 L588.77,177.41 L589.64,177.19 L590.52,176.97 L591.39,176.74 L592.26,176.51 L593.13,176.28 L594.01,176.04 L594.88,175.80 L595.75,175.55 L596.62,175.30 L597.50,175.04 L598.37,174.77 L599.24,174.51 L600.11,174.23 L600.99,173.95 L601.86,173.67 L602.73,173.38 L603.60,173.09 L604.47,172.79 L605.35,172.48 L606.22,172.17 L607.09,171.85 L607.96,171.52 L608.84,171.19 L609.71,170.86 L610.58,170.51 L611.45,170.16 L612.33,169.80 L613.20,169.44 L614.07,169.07 L614.94,168.69 L615.82,168.30 L616.69,167.91 L617.56,167.51 L618.43,167.10 L619.31,166.68 L620.18,166.26 L621.05,165.83 L621.92,165.38 L622.79,164.93 L623.67,164.47 L624.54,164.01 L625.41,163.53 L626.28,163.04 L627.16,162.55 L628.03,162.04 L628.90,161.53 L629.77,161.00 L630.65,160.47 L631.52,159.92 L632.39,159.37 L633.26,158.80 L634.14,158.22 L635.01,157.64 L635.88,157.04 L636.75,156.42 L637.63,155.80 L638.50,155.16 L639.37,154.52 L640.24,153.86 L641.12,153.18 L641.99,152.50 L642.86,151.80 L643.73,151.08 L644.60,150.36 L645.48,149.61 L646.35,148.86 L647.22,148.09 L648.09,147.30 L648.97,146.50 L649.84,145.69 L650.71,144.85 L651.58,144.01 L652.46,143.14 L653.33,142.26 L654.20,141.36 L655.07,140.45 L655.95,139.51 L656.82,138.56 L657.69,137.59 L658.56,136.60 L659.44,135.60 L660.31,134.57 L661.18,133.52 L662.05,132.45 L662.92,131.37 L663.80,130.26 L664.67,129.12 L665.54,127.97 L666.41,126.80 L667.29,125.60 L668.16,124.38 L669.03,123.13 L669.90,121.86 L670.78,120.57 L671.65,119.25 L672.52,117.91 L673.39,116.54 L674.27,115.14 L675.14,113.72 L676.01,112.26" fill="none" stroke="#3F8FCB" stroke-width="2.2" stroke-linejoin="round"/>
<line x1="493.55" y1="181.08" x2="683.50" y2="181.08" stroke="#000" stroke-width="2.1" stroke-dasharray="8.6 9.2"/>
<line x1="563.20" y1="22.30" x2="563.20" y2="189.20" stroke="#D6108C" stroke-width="2.3"/>
<line x1="571.30" y1="22.30" x2="571.30" y2="189.20" stroke="#D6108C" stroke-width="2.3"/>
</g>
<path d="M493.55,22.30 V189.20 H683.50" fill="none" stroke="#000" stroke-width="1.1"/>
<line x1="490.45" y1="188.60" x2="493.55" y2="188.60" stroke="#333" stroke-width="1.0"/>
<text x="488.35" y="191.85" font-size="9.3" style="fill:#4D4D4D" text-anchor="end">0</text>
<line x1="490.45" y1="151.00" x2="493.55" y2="151.00" stroke="#333" stroke-width="1.0"/>
<text x="488.35" y="154.25" font-size="9.3" style="fill:#4D4D4D" text-anchor="end">5</text>
<line x1="490.45" y1="113.40" x2="493.55" y2="113.40" stroke="#333" stroke-width="1.0"/>
<text x="488.35" y="116.65" font-size="9.3" style="fill:#4D4D4D" text-anchor="end">10</text>
<line x1="490.45" y1="75.80" x2="493.55" y2="75.80" stroke="#333" stroke-width="1.0"/>
<text x="488.35" y="79.05" font-size="9.3" style="fill:#4D4D4D" text-anchor="end">15</text>
<line x1="490.45" y1="38.20" x2="493.55" y2="38.20" stroke="#333" stroke-width="1.0"/>
<text x="488.35" y="41.45" font-size="9.3" style="fill:#4D4D4D" text-anchor="end">20</text>
<line x1="525.33" y1="189.20" x2="525.33" y2="192.30" stroke="#333" stroke-width="1.0"/>
<text x="525.33" y="201.20" font-size="9.3" style="fill:#4D4D4D" text-anchor="middle">−5</text>
<line x1="571.35" y1="189.20" x2="571.35" y2="192.30" stroke="#333" stroke-width="1.0"/>
<text x="571.35" y="201.20" font-size="9.3" style="fill:#4D4D4D" text-anchor="middle">0</text>
<line x1="617.38" y1="189.20" x2="617.38" y2="192.30" stroke="#333" stroke-width="1.0"/>
<text x="617.38" y="201.20" font-size="9.3" style="fill:#4D4D4D" text-anchor="middle">5</text>
<line x1="663.40" y1="189.20" x2="663.40" y2="192.30" stroke="#333" stroke-width="1.0"/>
<text x="663.40" y="201.20" font-size="9.3" style="fill:#4D4D4D" text-anchor="middle">10</text>
<text x="589.10" y="214.40" font-size="11.60" text-anchor="middle">High−sugar dietary scores</text>
<text transform="translate(473.50,104.50) rotate(-90)" font-size="11.4" text-anchor="middle">HR (95%CI)</text>
<text x="494.10" y="13.80" font-size="13.45">All−casue dementia</text>
<text x="536.47" y="46.60" font-size="11.4">P for non−linearity&lt;0.001</text>
<text x="462.89" y="16.30" font-size="26" font-weight="bold">c</text>
<clipPath id="clipd"><rect x="34.50" y="243.70" width="189.10" height="165.70"/></clipPath>
<g clip-path="url(#clipd)">
<path d="M43.04,389.27 L43.91,390.52 L44.78,391.65 L45.64,392.66 L46.51,393.57 L47.37,394.39 L48.24,395.13 L49.11,395.81 L49.97,396.42 L50.84,396.97 L51.70,397.47 L52.57,397.93 L53.43,398.35 L54.30,398.73 L55.17,399.08 L56.03,399.41 L56.90,399.73 L57.76,400.04 L58.63,400.32 L59.50,400.58 L60.36,400.83 L61.23,401.04 L62.09,401.23 L62.96,401.40 L63.83,401.54 L64.69,401.65 L65.56,401.74 L66.42,401.79 L67.29,401.82 L68.15,401.82 L69.02,401.82 L69.89,401.81 L70.75,401.79 L71.62,401.76 L72.48,401.72 L73.35,401.68 L74.22,401.62 L75.08,401.56 L75.95,401.50 L76.81,401.42 L77.68,401.34 L78.55,401.25 L79.41,401.15 L80.28,401.05 L81.14,400.94 L82.01,400.82 L82.87,400.70 L83.74,400.56 L84.61,400.42 L85.47,400.28 L86.34,400.13 L87.20,399.97 L88.07,399.81 L88.94,399.64 L89.80,399.46 L90.67,399.28 L91.53,399.09 L92.40,398.90 L93.27,398.71 L94.13,398.51 L95.00,398.30 L95.86,398.10 L96.73,397.88 L97.60,397.67 L98.46,397.45 L99.33,397.23 L100.19,397.00 L101.06,396.78 L101.92,396.55 L102.79,396.32 L103.66,396.08 L104.52,395.85 L105.39,395.61 L106.25,395.37 L107.12,395.12 L107.99,394.86 L108.85,394.60 L109.72,394.34 L110.58,394.06 L111.45,393.79 L112.32,393.51 L113.18,393.22 L114.05,392.93 L114.91,392.63 L115.78,392.33 L116.64,392.02 L117.51,391.71 L118.38,391.39 L119.24,391.07 L120.11,390.74 L120.97,390.42 L121.84,390.08 L122.71,389.74 L123.57,389.40 L124.44,389.06 L125.30,388.70 L126.17,388.35 L127.04,387.99 L127.90,387.62 L128.77,387.25 L129.63,386.87 L130.50,386.48 L131.37,386.09 L132.23,385.69 L133.10,385.28 L133.96,384.87 L134.83,384.45 L135.69,384.02 L136.56,383.58 L137.43,383.13 L138.29,382.67 L139.16,382.20 L140.02,381.72 L140.89,381.22 L141.76,380.72 L142.62,380.20 L143.49,379.67 L144.35,379.13 L145.22,378.57 L146.09,378.00 L146.95,377.42 L147.82,376.83 L148.68,376.22 L149.55,375.60 L150.41,374.97 L151.28,374.32 L152.15,373.66 L153.01,372.98 L153.88,372.29 L154.74,371.58 L155.61,370.86 L156.48,370.12 L157.34,369.36 L158.21,368.59 L159.07,367.80 L159.94,367.00 L160.81,366.18 L161.67,365.34 L162.54,364.48 L163.40,363.60 L164.27,362.71 L165.13,361.79 L166.00,360.86 L166.87,359.90 L167.73,358.92 L168.60,357.92 L169.46,356.90 L170.33,355.85 L171.20,354.78 L172.06,353.68 L172.93,352.56 L173.79,351.41 L174.66,350.23 L175.53,349.03 L176.39,347.80 L177.26,346.55 L178.12,345.27 L178.99,343.95 L179.86,342.61 L180.72,341.24 L181.59,339.85 L182.45,338.42 L183.32,336.96 L184.18,335.47 L185.05,333.95 L185.92,332.39 L186.78,330.81 L187.65,329.19 L188.51,327.54 L189.38,325.85 L190.25,324.13 L191.11,322.37 L191.98,320.58 L192.84,318.74 L193.71,316.86 L194.58,314.95 L195.44,312.99 L196.31,310.98 L197.17,308.94 L198.04,306.85 L198.90,304.72 L199.77,302.53 L200.64,300.30 L201.50,298.03 L202.37,295.70 L203.23,293.32 L204.10,290.89 L204.97,288.40 L205.83,285.86 L206.70,283.26 L207.56,280.61 L208.43,277.90 L209.30,275.13 L210.16,272.29 L211.03,269.40 L211.89,266.44 L212.76,263.41 L213.63,260.31 L214.49,257.15 L215.36,253.92 L215.36,398.34 L214.49,398.34 L213.63,398.35 L212.76,398.35 L211.89,398.36 L211.03,398.36 L210.16,398.37 L209.30,398.37 L208.43,398.38 L207.56,398.38 L206.70,398.39 L205.83,398.39 L204.97,398.40 L204.10,398.41 L203.23,398.41 L202.37,398.42 L201.50,398.43 L200.64,398.44 L199.77,398.44 L198.90,398.45 L198.04,398.46 L197.17,398.47 L196.31,398.48 L195.44,398.49 L194.58,398.50 L193.71,398.51 L192.84,398.52 L191.98,398.53 L191.11,398.54 L190.25,398.55 L189.38,398.56 L188.51,398.57 L187.65,398.58 L186.78,398.59 L185.92,398.60 L185.05,398.61 L184.18,398.63 L183.32,398.64 L182.45,398.65 L181.59,398.66 L180.72,398.67 L179.86,398.69 L178.99,398.70 L178.12,398.71 L177.26,398.73 L176.39,398.74 L175.53,398.76 L174.66,398.77 L173.79,398.79 L172.93,398.80 L172.06,398.82 L171.20,398.84 L170.33,398.85 L169.46,398.87 L168.60,398.89 L167.73,398.91 L166.87,398.93 L166.00,398.95 L165.13,398.97 L164.27,398.99 L163.40,399.01 L162.54,399.04 L161.67,399.06 L160.81,399.08 L159.94,399.11 L159.07,399.13 L158.21,399.15 L157.34,399.18 L156.48,399.20 L155.61,399.23 L154.74,399.26 L153.88,399.28 L153.01,399.31 L152.15,399.34 L151.28,399.36 L150.41,399.39 L149.55,399.42 L148.68,399.45 L147.82,399.48 L146.95,399.51 L146.09,399.54 L145.22,399.57 L144.35,399.61 L143.49,399.64 L142.62,399.67 L141.76,399.70 L140.89,399.74 L140.02,399.78 L139.16,399.81 L138.29,399.85 L137.43,399.89 L136.56,399.93 L135.69,399.96 L134.83,400.00 L133.96,400.04 L133.10,400.08 L132.23,400.12 L131.37,400.16 L130.50,400.20 L129.63,400.24 L128.77,400.28 L127.90,400.32 L127.04,400.36 L126.17,400.40 L125.30,400.44 L124.44,400.47 L123.57,400.51 L122.71,400.55 L121.84,400.58 L120.97,400.62 L120.11,400.65 L119.24,400.69 L118.38,400.72 L117.51,400.75 L116.64,400.78 L115.78,400.81 L114.91,400.84 L114.05,400.87 L113.18,400.90 L112.32,400.93 L111.45,400.96 L110.58,400.99 L109.72,401.02 L108.85,401.05 L107.99,401.08 L107.12,401.11 L106.25,401.14 L105.39,401.17 L104.52,401.20 L103.66,401.23 L102.79,401.26 L101.92,401.29 L101.06,401.32 L100.19,401.34 L99.33,401.36 L98.46,401.39 L97.60,401.41 L96.73,401.43 L95.86,401.45 L95.00,401.47 L94.13,401.48 L93.27,401.50 L92.40,401.52 L91.53,401.54 L90.67,401.56 L89.80,401.58 L88.94,401.60 L88.07,401.62 L87.20,401.63 L86.34,401.65 L85.47,401.67 L84.61,401.69 L83.74,401.71 L82.87,401.72 L82.01,401.74 L81.14,401.75 L80.28,401.77 L79.41,401.78 L78.55,401.79 L77.68,401.80 L76.81,401.81 L75.95,401.82 L75.08,401.83 L74.22,401.83 L73.35,401.84 L72.48,401.84 L71.62,401.84 L70.75,401.84 L69.89,401.84 L69.02,401.83 L68.15,401.83 L67.29,401.82 L66.42,401.82 L65.56,401.84 L64.69,401.87 L63.83,401.92 L62.96,401.97 L62.09,402.03 L61.23,402.09 L60.36,402.15 L59.50,402.21 L58.63,402.26 L57.76,402.30 L56.90,402.33 L56.03,402.34 L55.17,402.35 L54.30,402.33 L53.43,402.31 L52.57,402.28 L51.70,402.24 L50.84,402.19 L49.97,402.13 L49.11,402.06 L48.24,401.99 L47.37,401.90 L46.51,401.79 L45.64,401.68 L44.78,401.55 L43.91,401.40 L43.04,401.24 Z" fill="#FEF4F2"/>
<path d="M43.04,397.00 L43.91,397.49 L44.78,397.94 L45.64,398.34 L46.51,398.71 L47.37,399.05 L48.24,399.35 L49.11,399.62 L49.97,399.87 L50.84,400.10 L51.70,400.30 L52.57,400.49 L53.43,400.66 L54.30,400.81 L55.17,400.95 L56.03,401.08 L56.90,401.19 L57.76,401.29 L58.63,401.38 L59.50,401.46 L60.36,401.53 L61.23,401.59 L62.09,401.65 L62.96,401.69 L63.83,401.73 L64.69,401.76 L65.56,401.79 L66.42,401.81 L67.29,401.82 L68.15,401.83 L69.02,401.83 L69.89,401.82 L70.75,401.81 L71.62,401.80 L72.48,401.78 L73.35,401.76 L74.22,401.73 L75.08,401.70 L75.95,401.66 L76.81,401.62 L77.68,401.58 L78.55,401.53 L79.41,401.48 L80.28,401.42 L81.14,401.36 L82.01,401.30 L82.87,401.23 L83.74,401.17 L84.61,401.09 L85.47,401.02 L86.34,400.94 L87.20,400.86 L88.07,400.78 L88.94,400.70 L89.80,400.62 L90.67,400.53 L91.53,400.44 L92.40,400.35 L93.27,400.26 L94.13,400.17 L95.00,400.08 L95.86,399.99 L96.73,399.89 L97.60,399.80 L98.46,399.70 L99.33,399.60 L100.19,399.50 L101.06,399.41 L101.92,399.30 L102.79,399.20 L103.66,399.10 L104.52,399.00 L105.39,398.89 L106.25,398.78 L107.12,398.68 L107.99,398.57 L108.85,398.46 L109.72,398.35 L110.58,398.23 L111.45,398.12 L112.32,398.01 L113.18,397.89 L114.05,397.77 L114.91,397.65 L115.78,397.53 L116.64,397.41 L117.51,397.29 L118.38,397.17 L119.24,397.04 L120.11,396.91 L120.97,396.79 L121.84,396.66 L122.71,396.53 L123.57,396.39 L124.44,396.26 L125.30,396.13 L126.17,395.99 L127.04,395.85 L127.90,395.71 L128.77,395.57 L129.63,395.43 L130.50,395.29 L131.37,395.14 L132.23,395.00 L133.10,394.85 L133.96,394.70 L134.83,394.55 L135.69,394.40 L136.56,394.24 L137.43,394.09 L138.29,393.93 L139.16,393.77 L140.02,393.61 L140.89,393.45 L141.76,393.29 L142.62,393.12 L143.49,392.95 L144.35,392.79 L145.22,392.62 L146.09,392.44 L146.95,392.27 L147.82,392.10 L148.68,391.92 L149.55,391.74 L150.41,391.56 L151.28,391.38 L152.15,391.19 L153.01,391.01 L153.88,390.82 L154.74,390.63 L155.61,390.44 L156.48,390.24 L157.34,390.05 L158.21,389.85 L159.07,389.65 L159.94,389.45 L160.81,389.24 L161.67,389.04 L162.54,388.83 L163.40,388.62 L164.27,388.41 L165.13,388.20 L166.00,387.98 L166.87,387.76 L167.73,387.54 L168.60,387.32 L169.46,387.09 L170.33,386.87 L171.20,386.64 L172.06,386.41 L172.93,386.17 L173.79,385.94 L174.66,385.70 L175.53,385.46 L176.39,385.22 L177.26,384.97 L178.12,384.72 L178.99,384.47 L179.86,384.22 L180.72,383.96 L181.59,383.71 L182.45,383.45 L183.32,383.18 L184.18,382.92 L185.05,382.65 L185.92,382.38 L186.78,382.10 L187.65,381.83 L188.51,381.55 L189.38,381.27 L190.25,380.98 L191.11,380.69 L191.98,380.40 L192.84,380.11 L193.71,379.81 L194.58,379.52 L195.44,379.21 L196.31,378.91 L197.17,378.60 L198.04,378.29 L198.90,377.97 L199.77,377.65 L200.64,377.33 L201.50,377.01 L202.37,376.68 L203.23,376.35 L204.10,376.02 L204.97,375.68 L205.83,375.34 L206.70,374.99 L207.56,374.64 L208.43,374.29 L209.30,373.94 L210.16,373.58 L211.03,373.21 L211.89,372.85 L212.76,372.48 L213.63,372.10 L214.49,371.72 L215.36,371.34" fill="none" stroke="#F3B4A8" stroke-width="2.2" stroke-linejoin="round"/>
<line x1="34.50" y1="401.67" x2="223.60" y2="401.67" stroke="#000" stroke-width="2.1" stroke-dasharray="8.6 9.2"/>
<line x1="66.00" y1="243.70" x2="66.00" y2="409.40" stroke="#32A27F" stroke-width="2.3"/>
<line x1="72.30" y1="243.70" x2="72.30" y2="409.40" stroke="#32A27F" stroke-width="2.3"/>
</g>
<path d="M34.50,243.70 V409.40 H223.60" fill="none" stroke="#000" stroke-width="1.1"/>
<line x1="31.40" y1="406.40" x2="34.50" y2="406.40" stroke="#333" stroke-width="1.0"/>
<text x="29.30" y="409.65" font-size="9.3" style="fill:#4D4D4D" text-anchor="end">0</text>
<line x1="31.40" y1="359.13" x2="34.50" y2="359.13" stroke="#333" stroke-width="1.0"/>
<text x="29.30" y="362.38" font-size="9.3" style="fill:#4D4D4D" text-anchor="end">10</text>
<line x1="31.40" y1="311.86" x2="34.50" y2="311.86" stroke="#333" stroke-width="1.0"/>
<text x="29.30" y="315.11" font-size="9.3" style="fill:#4D4D4D" text-anchor="end">20</text>
<line x1="31.40" y1="264.59" x2="34.50" y2="264.59" stroke="#333" stroke-width="1.0"/>
<text x="29.30" y="267.84" font-size="9.3" style="fill:#4D4D4D" text-anchor="end">30</text>
<line x1="42.70" y1="409.40" x2="42.70" y2="412.50" stroke="#333" stroke-width="1.0"/>
<text x="42.70" y="421.40" font-size="9.3" style="fill:#4D4D4D" text-anchor="middle">0</text>
<line x1="91.82" y1="409.40" x2="91.82" y2="412.50" stroke="#333" stroke-width="1.0"/>
<text x="91.82" y="421.40" font-size="9.3" style="fill:#4D4D4D" text-anchor="middle">200</text>
<line x1="140.94" y1="409.40" x2="140.94" y2="412.50" stroke="#333" stroke-width="1.0"/>
<text x="140.94" y="421.40" font-size="9.3" style="fill:#4D4D4D" text-anchor="middle">400</text>
<line x1="190.06" y1="409.40" x2="190.06" y2="412.50" stroke="#333" stroke-width="1.0"/>
<text x="190.06" y="421.40" font-size="9.3" style="fill:#4D4D4D" text-anchor="middle">600</text>
<text x="129.30" y="433.80" font-size="11.40" text-anchor="middle">Absolute sugar intake</text>
<text transform="translate(13.80,326.30) rotate(-90)" font-size="11.4" text-anchor="middle">HR (95%CI)</text>
<text x="35.00" y="235.00" font-size="13.45">Alzheimer's disease</text>
<text x="77.07" y="268.10" font-size="11.4">P for non−linearity=0.015</text>
<text x="-0.37" y="239.70" font-size="26" font-weight="bold">d</text>
<clipPath id="clipe"><rect x="264.00" y="243.30" width="188.80" height="165.20"/></clipPath>
<g clip-path="url(#clipe)">
<path d="M272.70,362.02 L273.57,364.21 L274.43,366.28 L275.29,368.24 L276.16,370.09 L277.02,371.84 L277.88,373.49 L278.74,375.05 L279.61,376.53 L280.47,377.93 L281.33,379.25 L282.20,380.51 L283.06,381.70 L283.92,382.84 L284.79,383.91 L285.65,384.93 L286.51,385.90 L287.37,386.81 L288.24,387.67 L289.10,388.50 L289.96,389.32 L290.83,390.11 L291.69,390.88 L292.55,391.63 L293.42,392.35 L294.28,393.05 L295.14,393.72 L296.00,394.36 L296.87,394.97 L297.73,395.56 L298.59,396.11 L299.46,396.64 L300.32,397.14 L301.18,397.60 L302.05,398.04 L302.91,398.43 L303.77,398.80 L304.63,399.13 L305.50,399.42 L306.36,399.68 L307.22,399.90 L308.09,400.08 L308.95,400.23 L309.81,400.34 L310.68,400.41 L311.54,400.43 L312.40,400.42 L313.26,400.38 L314.13,400.31 L314.99,400.21 L315.85,400.09 L316.72,399.95 L317.58,399.79 L318.44,399.60 L319.31,399.40 L320.17,399.18 L321.03,398.94 L321.89,398.69 L322.76,398.43 L323.62,398.15 L324.48,397.87 L325.35,397.58 L326.21,397.29 L327.07,397.00 L327.94,396.70 L328.80,396.40 L329.66,396.10 L330.52,395.79 L331.39,395.48 L332.25,395.16 L333.11,394.84 L333.98,394.52 L334.84,394.19 L335.70,393.86 L336.57,393.53 L337.43,393.18 L338.29,392.84 L339.15,392.49 L340.02,392.14 L340.88,391.78 L341.74,391.41 L342.61,391.04 L343.47,390.66 L344.33,390.28 L345.20,389.89 L346.06,389.50 L346.92,389.10 L347.78,388.70 L348.65,388.29 L349.51,387.89 L350.37,387.48 L351.24,387.06 L352.10,386.65 L352.96,386.24 L353.83,385.82 L354.69,385.41 L355.55,385.00 L356.41,384.58 L357.28,384.16 L358.14,383.74 L359.00,383.31 L359.87,382.87 L360.73,382.43 L361.59,381.98 L362.46,381.53 L363.32,381.07 L364.18,380.60 L365.04,380.13 L365.91,379.65 L366.77,379.17 L367.63,378.68 L368.50,378.18 L369.36,377.67 L370.22,377.15 L371.09,376.63 L371.95,376.10 L372.81,375.55 L373.67,375.00 L374.54,374.44 L375.40,373.87 L376.26,373.29 L377.13,372.69 L377.99,372.09 L378.85,371.47 L379.72,370.84 L380.58,370.20 L381.44,369.54 L382.30,368.87 L383.17,368.18 L384.03,367.48 L384.89,366.77 L385.76,366.03 L386.62,365.28 L387.48,364.51 L388.35,363.73 L389.21,362.92 L390.07,362.09 L390.93,361.24 L391.80,360.37 L392.66,359.48 L393.52,358.56 L394.39,357.62 L395.25,356.66 L396.11,355.67 L396.98,354.66 L397.84,353.63 L398.70,352.57 L399.56,351.49 L400.43,350.38 L401.29,349.24 L402.15,348.08 L403.02,346.89 L403.88,345.67 L404.74,344.43 L405.61,343.16 L406.47,341.86 L407.33,340.53 L408.19,339.18 L409.06,337.79 L409.92,336.38 L410.78,334.94 L411.65,333.46 L412.51,331.96 L413.37,330.42 L414.24,328.86 L415.10,327.26 L415.96,325.64 L416.82,323.98 L417.69,322.29 L418.55,320.57 L419.41,318.82 L420.28,317.04 L421.14,315.22 L422.00,313.37 L422.87,311.50 L423.73,309.59 L424.59,307.64 L425.45,305.65 L426.32,303.62 L427.18,301.55 L428.04,299.43 L428.91,297.28 L429.77,295.07 L430.63,292.82 L431.50,290.53 L432.36,288.19 L433.22,285.80 L434.08,283.36 L434.95,280.87 L435.81,278.32 L436.67,275.73 L437.54,273.08 L438.40,270.38 L439.26,267.62 L440.13,264.81 L440.99,261.94 L441.85,259.01 L442.71,256.01 L443.58,252.96 L444.44,249.85 L444.44,399.61 L443.58,399.59 L442.71,399.56 L441.85,399.54 L440.99,399.52 L440.13,399.50 L439.26,399.47 L438.40,399.45 L437.54,399.43 L436.67,399.41 L435.81,399.38 L434.95,399.36 L434.08,399.34 L433.22,399.32 L432.36,399.30 L431.50,399.28 L430.63,399.26 L429.77,399.24 L428.91,399.22 L428.04,399.20 L427.18,399.18 L426.32,399.16 L425.45,399.14 L424.59,399.12 L423.73,399.10 L422.87,399.08 L422.00,399.06 L421.14,399.04 L420.28,399.02 L419.41,399.00 L418.55,398.98 L417.69,398.96 L416.82,398.93 L415.96,398.91 L415.10,398.89 L414.24,398.87 L413.37,398.85 L412.51,398.82 L411.65,398.80 L410.78,398.78 L409.92,398.76 L409.06,398.74 L408.19,398.72 L407.33,398.70 L406.47,398.68 L405.61,398.66 L404.74,398.64 L403.88,398.62 L403.02,398.60 L402.15,398.58 L401.29,398.57 L400.43,398.55 L399.56,398.54 L398.70,398.52 L397.84,398.51 L396.98,398.50 L396.11,398.49 L395.25,398.48 L394.39,398.48 L393.52,398.47 L392.66,398.47 L391.80,398.46 L390.93,398.46 L390.07,398.46 L389.21,398.46 L388.35,398.47 L387.48,398.47 L386.62,398.48 L385.76,398.49 L384.89,398.50 L384.03,398.51 L383.17,398.52 L382.30,398.53 L381.44,398.55 L380.58,398.56 L379.72,398.58 L378.85,398.59 L377.99,398.61 L377.13,398.63 L376.26,398.65 L375.40,398.67 L374.54,398.69 L373.67,398.71 L372.81,398.73 L371.95,398.75 L371.09,398.77 L370.22,398.79 L369.36,398.81 L368.50,398.83 L367.63,398.85 L366.77,398.87 L365.91,398.90 L365.04,398.92 L364.18,398.94 L363.32,398.96 L362.46,398.98 L361.59,398.99 L360.73,399.01 L359.87,399.03 L359.00,399.05 L358.14,399.06 L357.28,399.08 L356.41,399.09 L355.55,399.11 L354.69,399.12 L353.83,399.13 L352.96,399.13 L352.10,399.14 L351.24,399.13 L350.37,399.13 L349.51,399.12 L348.65,399.11 L347.78,399.10 L346.92,399.09 L346.06,399.07 L345.20,399.06 L344.33,399.04 L343.47,399.02 L342.61,399.00 L341.74,398.98 L340.88,398.95 L340.02,398.93 L339.15,398.91 L338.29,398.90 L337.43,398.88 L336.57,398.87 L335.70,398.86 L334.84,398.85 L333.98,398.85 L333.11,398.85 L332.25,398.86 L331.39,398.88 L330.52,398.90 L329.66,398.93 L328.80,398.96 L327.94,399.01 L327.07,399.06 L326.21,399.13 L325.35,399.20 L324.48,399.28 L323.62,399.37 L322.76,399.47 L321.89,399.57 L321.03,399.67 L320.17,399.78 L319.31,399.88 L318.44,399.98 L317.58,400.07 L316.72,400.15 L315.85,400.23 L314.99,400.30 L314.13,400.35 L313.26,400.40 L312.40,400.42 L311.54,400.44 L310.68,400.44 L309.81,400.44 L308.95,400.44 L308.09,400.43 L307.22,400.41 L306.36,400.40 L305.50,400.38 L304.63,400.36 L303.77,400.34 L302.91,400.32 L302.05,400.30 L301.18,400.28 L300.32,400.27 L299.46,400.25 L298.59,400.24 L297.73,400.23 L296.87,400.22 L296.00,400.22 L295.14,400.22 L294.28,400.21 L293.42,400.21 L292.55,400.21 L291.69,400.21 L290.83,400.20 L289.96,400.19 L289.10,400.18 L288.24,400.16 L287.37,400.14 L286.51,400.12 L285.65,400.12 L284.79,400.11 L283.92,400.12 L283.06,400.13 L282.20,400.14 L281.33,400.16 L280.47,400.19 L279.61,400.21 L278.74,400.25 L277.88,400.29 L277.02,400.33 L276.16,400.38 L275.29,400.44 L274.43,400.50 L273.57,400.56 L272.70,400.63 Z" fill="#FEF4F2"/>
<path d="M272.70,388.66 L273.57,389.09 L274.43,389.50 L275.29,389.91 L276.16,390.31 L277.02,390.70 L277.88,391.08 L278.74,391.46 L279.61,391.83 L280.47,392.19 L281.33,392.54 L282.20,392.89 L283.06,393.23 L283.92,393.57 L284.79,393.89 L285.65,394.22 L286.51,394.53 L287.37,394.84 L288.24,395.14 L289.10,395.44 L289.96,395.73 L290.83,396.02 L291.69,396.30 L292.55,396.57 L293.42,396.84 L294.28,397.11 L295.14,397.36 L296.00,397.62 L296.87,397.87 L297.73,398.11 L298.59,398.35 L299.46,398.58 L300.32,398.81 L301.18,399.02 L302.05,399.23 L302.91,399.42 L303.77,399.60 L304.63,399.76 L305.50,399.91 L306.36,400.04 L307.22,400.16 L308.09,400.26 L308.95,400.33 L309.81,400.39 L310.68,400.42 L311.54,400.44 L312.40,400.42 L313.26,400.39 L314.13,400.33 L314.99,400.26 L315.85,400.16 L316.72,400.05 L317.58,399.93 L318.44,399.79 L319.31,399.64 L320.17,399.48 L321.03,399.31 L321.89,399.14 L322.76,398.96 L323.62,398.78 L324.48,398.60 L325.35,398.42 L326.21,398.24 L327.07,398.07 L327.94,397.91 L328.80,397.75 L329.66,397.59 L330.52,397.44 L331.39,397.29 L332.25,397.14 L333.11,397.00 L333.98,396.86 L334.84,396.72 L335.70,396.58 L336.57,396.45 L337.43,396.32 L338.29,396.19 L339.15,396.06 L340.02,395.93 L340.88,395.80 L341.74,395.67 L342.61,395.54 L343.47,395.41 L344.33,395.28 L345.20,395.15 L346.06,395.01 L346.92,394.88 L347.78,394.74 L348.65,394.61 L349.51,394.47 L350.37,394.33 L351.24,394.19 L352.10,394.04 L352.96,393.90 L353.83,393.76 L354.69,393.61 L355.55,393.46 L356.41,393.31 L357.28,393.16 L358.14,393.01 L359.00,392.86 L359.87,392.71 L360.73,392.55 L361.59,392.40 L362.46,392.24 L363.32,392.08 L364.18,391.92 L365.04,391.76 L365.91,391.59 L366.77,391.43 L367.63,391.26 L368.50,391.09 L369.36,390.92 L370.22,390.75 L371.09,390.58 L371.95,390.41 L372.81,390.23 L373.67,390.06 L374.54,389.88 L375.40,389.70 L376.26,389.52 L377.13,389.33 L377.99,389.15 L378.85,388.96 L379.72,388.77 L380.58,388.58 L381.44,388.39 L382.30,388.20 L383.17,388.00 L384.03,387.81 L384.89,387.61 L385.76,387.41 L386.62,387.21 L387.48,387.01 L388.35,386.80 L389.21,386.59 L390.07,386.39 L390.93,386.17 L391.80,385.96 L392.66,385.75 L393.52,385.53 L394.39,385.31 L395.25,385.09 L396.11,384.87 L396.98,384.65 L397.84,384.42 L398.70,384.19 L399.56,383.96 L400.43,383.73 L401.29,383.50 L402.15,383.26 L403.02,383.03 L403.88,382.79 L404.74,382.54 L405.61,382.30 L406.47,382.05 L407.33,381.80 L408.19,381.55 L409.06,381.30 L409.92,381.05 L410.78,380.79 L411.65,380.53 L412.51,380.27 L413.37,380.00 L414.24,379.74 L415.10,379.47 L415.96,379.20 L416.82,378.92 L417.69,378.65 L418.55,378.37 L419.41,378.09 L420.28,377.80 L421.14,377.52 L422.00,377.23 L422.87,376.94 L423.73,376.65 L424.59,376.35 L425.45,376.05 L426.32,375.75 L427.18,375.45 L428.04,375.14 L428.91,374.83 L429.77,374.52 L430.63,374.20 L431.50,373.89 L432.36,373.57 L433.22,373.24 L434.08,372.92 L434.95,372.59 L435.81,372.26 L436.67,371.92 L437.54,371.59 L438.40,371.25 L439.26,370.90 L440.13,370.56 L440.99,370.21 L441.85,369.85 L442.71,369.50 L443.58,369.14 L444.44,368.78" fill="none" stroke="#F3B4A8" stroke-width="2.2" stroke-linejoin="round"/>
<line x1="264.00" y1="400.12" x2="452.80" y2="400.12" stroke="#000" stroke-width="2.1" stroke-dasharray="8.6 9.2"/>
<line x1="306.80" y1="243.30" x2="306.80" y2="408.50" stroke="#32A27F" stroke-width="2.3"/>
<line x1="317.30" y1="243.30" x2="317.30" y2="408.50" stroke="#32A27F" stroke-width="2.3"/>
</g>
<path d="M264.00,243.30 V408.50 H452.80" fill="none" stroke="#000" stroke-width="1.1"/>
<line x1="260.90" y1="369.30" x2="264.00" y2="369.30" stroke="#333" stroke-width="1.0"/>
<text x="258.80" y="372.55" font-size="9.3" style="fill:#4D4D4D" text-anchor="end">4</text>
<line x1="260.90" y1="328.20" x2="264.00" y2="328.20" stroke="#333" stroke-width="1.0"/>
<text x="258.80" y="331.45" font-size="9.3" style="fill:#4D4D4D" text-anchor="end">8</text>
<line x1="260.90" y1="287.10" x2="264.00" y2="287.10" stroke="#333" stroke-width="1.0"/>
<text x="258.80" y="290.35" font-size="9.3" style="fill:#4D4D4D" text-anchor="end">12</text>
<line x1="260.90" y1="246.00" x2="264.00" y2="246.00" stroke="#333" stroke-width="1.0"/>
<text x="258.80" y="249.25" font-size="9.3" style="fill:#4D4D4D" text-anchor="end">16</text>
<line x1="270.40" y1="408.50" x2="270.40" y2="411.60" stroke="#333" stroke-width="1.0"/>
<text x="270.40" y="420.50" font-size="9.3" style="fill:#4D4D4D" text-anchor="middle">0</text>
<line x1="336.20" y1="408.50" x2="336.20" y2="411.60" stroke="#333" stroke-width="1.0"/>
<text x="336.20" y="420.50" font-size="9.3" style="fill:#4D4D4D" text-anchor="middle">2</text>
<line x1="402.00" y1="408.50" x2="402.00" y2="411.60" stroke="#333" stroke-width="1.0"/>
<text x="402.00" y="420.50" font-size="9.3" style="fill:#4D4D4D" text-anchor="middle">4</text>
<text x="358.70" y="433.40" font-size="11.35" text-anchor="middle">Relative sugar intake</text>
<text transform="translate(243.50,325.60) rotate(-90)" font-size="11.4" text-anchor="middle">HR (95%CI)</text>
<text x="264.90" y="235.00" font-size="13.45">Alzheimer's disease</text>
<text x="306.77" y="267.50" font-size="11.4">P for non−linearity=0.027</text>
<text x="231.19" y="235.50" font-size="26" font-weight="bold">e</text>
<clipPath id="clipf"><rect x="493.50" y="245.60" width="189.60" height="165.80"/></clipPath>
<g clip-path="url(#clipf)">
<path d="M502.29,314.02 L503.16,316.76 L504.02,319.43 L504.88,322.04 L505.75,324.57 L506.61,327.03 L507.47,329.43 L508.34,331.77 L509.20,334.04 L510.07,336.25 L510.93,338.40 L511.79,340.49 L512.66,342.53 L513.52,344.51 L514.39,346.44 L515.25,348.32 L516.11,350.15 L516.98,351.93 L517.84,353.66 L518.70,355.33 L519.57,356.95 L520.43,358.51 L521.30,360.02 L522.16,361.48 L523.02,362.90 L523.89,364.27 L524.75,365.60 L525.62,366.89 L526.48,368.15 L527.34,369.37 L528.21,370.57 L529.07,371.73 L529.94,372.86 L530.80,373.97 L531.66,375.05 L532.53,376.11 L533.39,377.14 L534.25,378.15 L535.12,379.14 L535.98,380.11 L536.85,381.07 L537.71,382.00 L538.57,382.91 L539.44,383.81 L540.30,384.69 L541.17,385.56 L542.03,386.41 L542.89,387.24 L543.76,388.08 L544.62,388.96 L545.49,389.87 L546.35,390.79 L547.21,391.71 L548.08,392.62 L548.94,393.52 L549.80,394.40 L550.67,395.24 L551.53,396.05 L552.40,396.83 L553.26,397.56 L554.12,398.25 L554.99,398.90 L555.85,399.51 L556.72,400.07 L557.58,400.59 L558.44,401.07 L559.31,401.49 L560.17,401.88 L561.03,402.22 L561.90,402.51 L562.76,402.76 L563.63,402.96 L564.49,403.12 L565.35,403.23 L566.22,403.29 L567.08,403.33 L567.95,403.33 L568.81,403.32 L569.67,403.28 L570.54,403.22 L571.40,403.13 L572.27,403.02 L573.13,402.89 L573.99,402.73 L574.86,402.56 L575.72,402.37 L576.58,402.17 L577.45,401.95 L578.31,401.72 L579.18,401.48 L580.04,401.23 L580.90,400.97 L581.77,400.71 L582.63,400.45 L583.50,400.18 L584.36,399.91 L585.22,399.65 L586.09,399.40 L586.95,399.14 L587.82,398.89 L588.68,398.64 L589.54,398.40 L590.41,398.16 L591.27,397.91 L592.13,397.67 L593.00,397.43 L593.86,397.19 L594.73,396.95 L595.59,396.70 L596.45,396.46 L597.32,396.20 L598.18,395.95 L599.05,395.68 L599.91,395.42 L600.77,395.14 L601.64,394.86 L602.50,394.57 L603.37,394.28 L604.23,393.98 L605.09,393.67 L605.96,393.35 L606.82,393.03 L607.68,392.70 L608.55,392.36 L609.41,392.01 L610.28,391.65 L611.14,391.28 L612.00,390.90 L612.87,390.52 L613.73,390.12 L614.60,389.71 L615.46,389.28 L616.32,388.84 L617.19,388.38 L618.05,387.91 L618.91,387.41 L619.78,386.90 L620.64,386.36 L621.51,385.81 L622.37,385.24 L623.23,384.64 L624.10,384.03 L624.96,383.39 L625.83,382.74 L626.69,382.06 L627.55,381.36 L628.42,380.63 L629.28,379.88 L630.15,379.11 L631.01,378.32 L631.87,377.50 L632.74,376.66 L633.60,375.78 L634.46,374.88 L635.33,373.93 L636.19,372.95 L637.06,371.92 L637.92,370.86 L638.78,369.75 L639.65,368.60 L640.51,367.41 L641.38,366.16 L642.24,364.87 L643.10,363.54 L643.97,362.14 L644.83,360.70 L645.70,359.20 L646.56,357.65 L647.42,356.04 L648.29,354.36 L649.15,352.63 L650.01,350.83 L650.88,348.97 L651.74,347.04 L652.61,345.03 L653.47,342.93 L654.33,340.75 L655.20,338.48 L656.06,336.12 L656.93,333.66 L657.79,331.09 L658.65,328.42 L659.52,325.64 L660.38,322.74 L661.25,319.71 L662.11,316.56 L662.97,313.28 L663.84,309.85 L664.70,306.28 L665.56,302.55 L666.43,298.67 L667.29,294.61 L668.16,290.38 L669.02,285.97 L669.88,281.36 L670.75,276.55 L671.61,271.53 L672.48,266.28 L673.34,260.81 L674.20,255.09 L674.20,400.06 L673.34,399.94 L672.48,399.82 L671.61,399.71 L670.75,399.60 L669.88,399.49 L669.02,399.38 L668.16,399.27 L667.29,399.16 L666.43,399.06 L665.56,398.96 L664.70,398.86 L663.84,398.76 L662.97,398.66 L662.11,398.57 L661.25,398.48 L660.38,398.39 L659.52,398.30 L658.65,398.21 L657.79,398.13 L656.93,398.05 L656.06,397.98 L655.20,397.90 L654.33,397.83 L653.47,397.77 L652.61,397.70 L651.74,397.64 L650.88,397.58 L650.01,397.53 L649.15,397.47 L648.29,397.42 L647.42,397.37 L646.56,397.33 L645.70,397.28 L644.83,397.24 L643.97,397.20 L643.10,397.16 L642.24,397.13 L641.38,397.10 L640.51,397.07 L639.65,397.05 L638.78,397.03 L637.92,397.02 L637.06,397.01 L636.19,397.00 L635.33,397.00 L634.46,397.00 L633.60,397.01 L632.74,397.02 L631.87,397.04 L631.01,397.06 L630.15,397.08 L629.28,397.10 L628.42,397.12 L627.55,397.15 L626.69,397.18 L625.83,397.21 L624.96,397.24 L624.10,397.28 L623.23,397.32 L622.37,397.36 L621.51,397.40 L620.64,397.45 L619.78,397.51 L618.91,397.56 L618.05,397.63 L617.19,397.69 L616.32,397.76 L615.46,397.84 L614.60,397.91 L613.73,398.00 L612.87,398.08 L612.00,398.17 L611.14,398.25 L610.28,398.34 L609.41,398.43 L608.55,398.52 L607.68,398.60 L606.82,398.70 L605.96,398.79 L605.09,398.88 L604.23,398.97 L603.37,399.06 L602.50,399.15 L601.64,399.25 L600.77,399.34 L599.91,399.43 L599.05,399.53 L598.18,399.62 L597.32,399.72 L596.45,399.81 L595.59,399.90 L594.73,400.00 L593.86,400.10 L593.00,400.20 L592.13,400.30 L591.27,400.41 L590.41,400.52 L589.54,400.64 L588.68,400.76 L587.82,400.89 L586.95,401.02 L586.09,401.16 L585.22,401.30 L584.36,401.45 L583.50,401.60 L582.63,401.77 L581.77,401.93 L580.90,402.09 L580.04,402.26 L579.18,402.41 L578.31,402.56 L577.45,402.71 L576.58,402.84 L575.72,402.96 L574.86,403.06 L573.99,403.16 L573.13,403.23 L572.27,403.30 L571.40,403.34 L570.54,403.37 L569.67,403.39 L568.81,403.38 L567.95,403.37 L567.08,403.33 L566.22,403.29 L565.35,403.25 L564.49,403.23 L563.63,403.22 L562.76,403.23 L561.90,403.26 L561.03,403.30 L560.17,403.36 L559.31,403.42 L558.44,403.50 L557.58,403.59 L556.72,403.69 L555.85,403.80 L554.99,403.91 L554.12,404.03 L553.26,404.14 L552.40,404.26 L551.53,404.37 L550.67,404.48 L549.80,404.58 L548.94,404.68 L548.08,404.76 L547.21,404.84 L546.35,404.90 L545.49,404.95 L544.62,404.99 L543.76,405.00 L542.89,405.00 L542.03,405.00 L541.17,404.98 L540.30,404.97 L539.44,404.95 L538.57,404.93 L537.71,404.91 L536.85,404.88 L535.98,404.85 L535.12,404.82 L534.25,404.79 L533.39,404.76 L532.53,404.72 L531.66,404.68 L530.80,404.65 L529.94,404.60 L529.07,404.56 L528.21,404.52 L527.34,404.48 L526.48,404.43 L525.62,404.38 L524.75,404.34 L523.89,404.29 L523.02,404.24 L522.16,404.20 L521.30,404.15 L520.43,404.10 L519.57,404.06 L518.70,404.01 L517.84,403.97 L516.98,403.92 L516.11,403.88 L515.25,403.83 L514.39,403.79 L513.52,403.74 L512.66,403.69 L511.79,403.64 L510.93,403.59 L510.07,403.54 L509.20,403.49 L508.34,403.43 L507.47,403.38 L506.61,403.33 L505.75,403.27 L504.88,403.21 L504.02,403.16 L503.16,403.10 L502.29,403.04 Z" fill="#FEF4F2"/>
<path d="M502.29,383.67 L503.16,384.16 L504.02,384.64 L504.88,385.11 L505.75,385.58 L506.61,386.03 L507.47,386.48 L508.34,386.91 L509.20,387.34 L510.07,387.76 L510.93,388.18 L511.79,388.59 L512.66,388.98 L513.52,389.38 L514.39,389.76 L515.25,390.14 L516.11,390.51 L516.98,390.87 L517.84,391.23 L518.70,391.58 L519.57,391.93 L520.43,392.27 L521.30,392.60 L522.16,392.92 L523.02,393.24 L523.89,393.56 L524.75,393.87 L525.62,394.17 L526.48,394.47 L527.34,394.76 L528.21,395.05 L529.07,395.33 L529.94,395.60 L530.80,395.87 L531.66,396.14 L532.53,396.40 L533.39,396.66 L534.25,396.91 L535.12,397.16 L535.98,397.40 L536.85,397.64 L537.71,397.88 L538.57,398.10 L539.44,398.33 L540.30,398.55 L541.17,398.77 L542.03,398.98 L542.89,399.19 L543.76,399.40 L544.62,399.60 L545.49,399.80 L546.35,400.00 L547.21,400.19 L548.08,400.37 L548.94,400.56 L549.80,400.74 L550.67,400.92 L551.53,401.09 L552.40,401.26 L553.26,401.43 L554.12,401.60 L554.99,401.76 L555.85,401.92 L556.72,402.07 L557.58,402.23 L558.44,402.38 L559.31,402.52 L560.17,402.65 L561.03,402.78 L561.90,402.89 L562.76,403.00 L563.63,403.09 L564.49,403.17 L565.35,403.24 L566.22,403.29 L567.08,403.33 L567.95,403.35 L568.81,403.35 L569.67,403.34 L570.54,403.30 L571.40,403.24 L572.27,403.16 L573.13,403.06 L573.99,402.95 L574.86,402.82 L575.72,402.67 L576.58,402.51 L577.45,402.34 L578.31,402.15 L579.18,401.96 L580.04,401.76 L580.90,401.55 L581.77,401.34 L582.63,401.13 L583.50,400.92 L584.36,400.71 L585.22,400.51 L586.09,400.31 L586.95,400.12 L587.82,399.94 L588.68,399.75 L589.54,399.58 L590.41,399.40 L591.27,399.23 L592.13,399.06 L593.00,398.90 L593.86,398.73 L594.73,398.57 L595.59,398.41 L596.45,398.25 L597.32,398.08 L598.18,397.92 L599.05,397.75 L599.91,397.58 L600.77,397.41 L601.64,397.23 L602.50,397.06 L603.37,396.88 L604.23,396.70 L605.09,396.51 L605.96,396.33 L606.82,396.14 L607.68,395.95 L608.55,395.75 L609.41,395.56 L610.28,395.36 L611.14,395.16 L612.00,394.95 L612.87,394.75 L613.73,394.54 L614.60,394.32 L615.46,394.11 L616.32,393.89 L617.19,393.67 L618.05,393.44 L618.91,393.22 L619.78,392.99 L620.64,392.75 L621.51,392.52 L622.37,392.28 L623.23,392.04 L624.10,391.79 L624.96,391.54 L625.83,391.29 L626.69,391.03 L627.55,390.77 L628.42,390.51 L629.28,390.25 L630.15,389.98 L631.01,389.70 L631.87,389.43 L632.74,389.14 L633.60,388.86 L634.46,388.57 L635.33,388.28 L636.19,387.98 L637.06,387.69 L637.92,387.38 L638.78,387.07 L639.65,386.76 L640.51,386.45 L641.38,386.13 L642.24,385.80 L643.10,385.47 L643.97,385.14 L644.83,384.80 L645.70,384.46 L646.56,384.11 L647.42,383.76 L648.29,383.41 L649.15,383.04 L650.01,382.68 L650.88,382.31 L651.74,381.93 L652.61,381.55 L653.47,381.17 L654.33,380.78 L655.20,380.38 L656.06,379.98 L656.93,379.57 L657.79,379.16 L658.65,378.75 L659.52,378.32 L660.38,377.89 L661.25,377.46 L662.11,377.02 L662.97,376.57 L663.84,376.12 L664.70,375.67 L665.56,375.20 L666.43,374.73 L667.29,374.26 L668.16,373.77 L669.02,373.28 L669.88,372.79 L670.75,372.29 L671.61,371.78 L672.48,371.26 L673.34,370.74 L674.20,370.21" fill="none" stroke="#F3B4A8" stroke-width="2.2" stroke-linejoin="round"/>
<line x1="493.50" y1="403.50" x2="683.10" y2="403.50" stroke="#000" stroke-width="2.1" stroke-dasharray="8.6 9.2"/>
<line x1="562.00" y1="245.60" x2="562.00" y2="411.40" stroke="#32A27F" stroke-width="2.3"/>
<line x1="570.70" y1="245.60" x2="570.70" y2="411.40" stroke="#32A27F" stroke-width="2.3"/>
</g>
<path d="M493.50,245.60 V411.40 H683.10" fill="none" stroke="#000" stroke-width="1.1"/>
<line x1="490.40" y1="410.50" x2="493.50" y2="410.50" stroke="#333" stroke-width="1.0"/>
<text x="488.30" y="413.75" font-size="9.3" style="fill:#4D4D4D" text-anchor="end">0</text>
<line x1="490.40" y1="375.50" x2="493.50" y2="375.50" stroke="#333" stroke-width="1.0"/>
<text x="488.30" y="378.75" font-size="9.3" style="fill:#4D4D4D" text-anchor="end">5</text>
<line x1="490.40" y1="340.50" x2="493.50" y2="340.50" stroke="#333" stroke-width="1.0"/>
<text x="488.30" y="343.75" font-size="9.3" style="fill:#4D4D4D" text-anchor="end">10</text>
<line x1="490.40" y1="305.50" x2="493.50" y2="305.50" stroke="#333" stroke-width="1.0"/>
<text x="488.30" y="308.75" font-size="9.3" style="fill:#4D4D4D" text-anchor="end">15</text>
<line x1="490.40" y1="270.50" x2="493.50" y2="270.50" stroke="#333" stroke-width="1.0"/>
<text x="488.30" y="273.75" font-size="9.3" style="fill:#4D4D4D" text-anchor="end">20</text>
<line x1="525.00" y1="411.40" x2="525.00" y2="414.50" stroke="#333" stroke-width="1.0"/>
<text x="525.00" y="423.40" font-size="9.3" style="fill:#4D4D4D" text-anchor="middle">−5</text>
<line x1="570.60" y1="411.40" x2="570.60" y2="414.50" stroke="#333" stroke-width="1.0"/>
<text x="570.60" y="423.40" font-size="9.3" style="fill:#4D4D4D" text-anchor="middle">0</text>
<line x1="616.20" y1="411.40" x2="616.20" y2="414.50" stroke="#333" stroke-width="1.0"/>
<text x="616.20" y="423.40" font-size="9.3" style="fill:#4D4D4D" text-anchor="middle">5</text>
<line x1="661.80" y1="411.40" x2="661.80" y2="414.50" stroke="#333" stroke-width="1.0"/>
<text x="661.80" y="423.40" font-size="9.3" style="fill:#4D4D4D" text-anchor="middle">10</text>
<text x="588.50" y="436.90" font-size="11.60" text-anchor="middle">High−sugar dietary scores</text>
<text transform="translate(473.50,328.50) rotate(-90)" font-size="11.4" text-anchor="middle">HR (95%CI)</text>
<text x="494.00" y="236.90" font-size="13.45">Alzheimer's disease</text>
<text x="536.27" y="270.10" font-size="11.4">P for non−linearity=0.005</text>
<text x="464.66" y="237.30" font-size="26" font-weight="bold">f</text>
</svg>
</body></html>
